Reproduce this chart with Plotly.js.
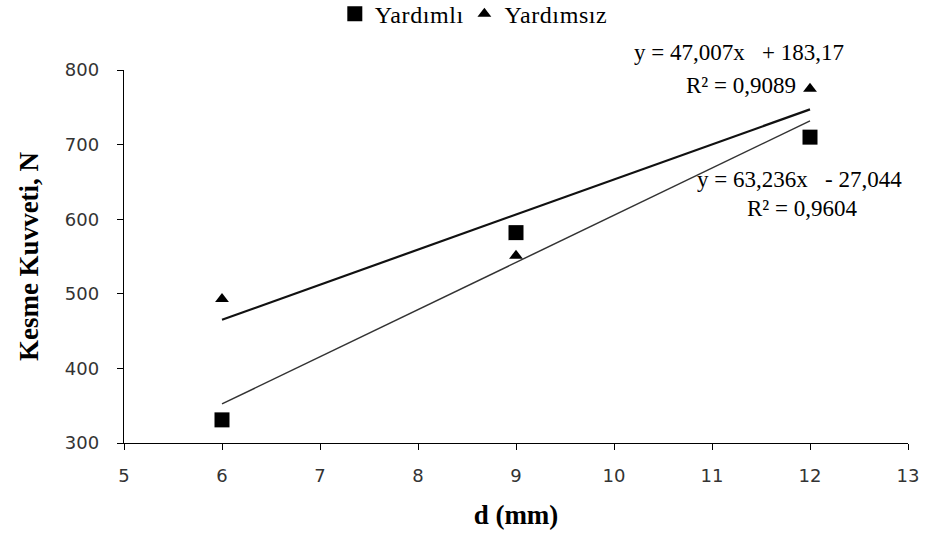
<!DOCTYPE html>
<html>
<head>
<meta charset="utf-8">
<script src="https://cdn.plot.ly/plotly-3.0.1.min.js"></script>
<style>
html,body{margin:0;padding:0;background:#fff;}
#chart{width:925px;height:542px;}
#chart .legendtext{font-family:"Liberation Serif",serif !important;font-size:24px !important;fill:#000 !important;letter-spacing:0.6px;}
</style>
</head>
<body>
<div id="chart"></div>
<script>
// Data
const dValues = [6, 9, 12];
const yardimli = [331, 582, 710];
const yardimsiz = [493, 551, 775];
const seriesNames = ["Yardımlı", "Yardımsız"];
// Trendline coefficients (as printed on chart)
const slopeYardimli = 63.236, interceptYardimli = -27.044, r2Yardimli = "0,9604";
const slopeYardimsiz = 47.007, interceptYardimsiz = 183.17, r2Yardimsiz = "0,9089";
const xTicks = [5, 6, 7, 8, 9, 10, 11, 12, 13];
const yTicks = [300, 400, 500, 600, 700, 800];

const trendX = [Math.min(...dValues), Math.max(...dValues)];
const lineY = (m, b) => trendX.map(x => m * x + b);
const fmt = (v, d) => Math.abs(v).toFixed(d).replace(".", ",");

const serif = "Liberation Serif";
const sans = "DejaVu Sans";
const traces = [
  {x: dValues, y: yardimli, name: seriesNames[0], type: "scatter", mode: "markers",
   marker: {symbol: "square", size: 15, color: "#000"}},
  {x: dValues, y: yardimsiz, name: seriesNames[1], type: "scatter", mode: "markers",
   marker: {symbol: "triangle-up", size: 12, color: "#000"}},
  {x: trendX, y: lineY(slopeYardimsiz, interceptYardimsiz), type: "scatter", mode: "lines",
   showlegend: false, hoverinfo: "skip", line: {color: "#111", width: 2.2}},
  {x: trendX, y: lineY(slopeYardimli, interceptYardimli), type: "scatter", mode: "lines",
   showlegend: false, hoverinfo: "skip", line: {color: "#333", width: 1.5}}
];

const annFont = {family: serif, size: 23, color: "#000"};
const layout = {
  width: 925, height: 542,
  margin: {l: 124, r: 17, t: 70, b: 99, autoexpand: false},
  paper_bgcolor: "#fff", plot_bgcolor: "#fff",
  font: {family: serif, size: 24, color: "#000"},
  showlegend: true,
  legend: {orientation: "h", x: 0.443, xanchor: "center", y: 1.15, yanchor: "middle",
           font: {family: serif, size: 24, color: "#000"}},
  xaxis: {range: [5, 13], tickvals: xTicks, ticks: "outside", ticklen: 6, tickcolor: "#000",
          showline: true, linecolor: "#000", linewidth: 1.2, showgrid: false, zeroline: false,
          ticklabelstandoff: 10,
          tickfont: {family: sans, size: 18, color: "#333"},
          title: {text: "<b>d (mm)</b>", font: {family: serif, size: 27, color: "#000"}, standoff: 20}},
  yaxis: {range: [300, 800], tickvals: yTicks, ticks: "outside", ticklen: 6, tickcolor: "#000",
          showline: true, linecolor: "#000", linewidth: 1.2, showgrid: false, zeroline: false,
          ticklabelstandoff: 14,
          tickfont: {family: sans, size: 18, color: "#333"},
          title: {text: "<b>Kesme Kuvveti, N</b>", font: {family: serif, size: 27, color: "#000"}, standoff: 18}},
  annotations: [
    {xref: "paper", yref: "paper", x: (739 - 124) / 784, y: (443 - 53) / 373, xanchor: "center", yanchor: "middle",
     text: "y = " + fmt(slopeYardimsiz, 3) + "x   + " + fmt(interceptYardimsiz, 2),
     showarrow: false, font: annFont},
    {xref: "paper", yref: "paper", x: (798 - 124) / 784, y: (443 - 85) / 373, xanchor: "right", yanchor: "middle",
     text: "R² = " + r2Yardimsiz, showarrow: false, font: annFont},
    {xref: "paper", yref: "paper", x: (695 - 124) / 784, y: (443 - 179) / 373, xanchor: "left", yanchor: "middle",
     text: "y = " + fmt(slopeYardimli, 3) + "x   - " + fmt(interceptYardimli, 3),
     showarrow: false, font: annFont},
    {xref: "paper", yref: "paper", x: (859 - 124) / 784, y: (443 - 208) / 373, xanchor: "right", yanchor: "middle",
     text: "R² = " + r2Yardimli, showarrow: false, font: annFont}
  ]
};
Plotly.newPlot("chart", traces, layout, {displayModeBar: false, staticPlot: true});
</script>
</body>
</html>
